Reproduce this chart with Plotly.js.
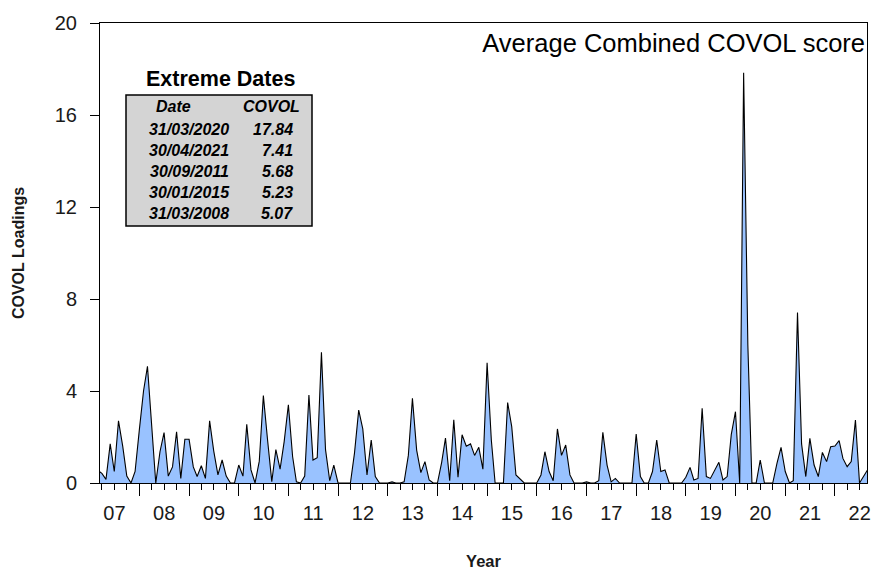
<!DOCTYPE html>
<html>
<head>
<meta charset="utf-8">
<script src="https://cdn.plot.ly/plotly-3.0.1.min.js"></script>
<style>
  html, body { margin: 0; padding: 0; background: #ffffff; }
  #chart { width: 871px; height: 571px; }
</style>
</head>
<body>
<div id="chart"></div>
<script>
// Monthly average combined COVOL score, one array per calendar year.
// 2007 starts in March, 2022 ends in September.
const v2007 = [0.55, 0.42, 0.16, 1.7, 0.5, 2.7, 1.6, 0.3, 0, 0.5];
const v2008 = [2.3, 4.0, 5.07, 2.4, 0, 1.36, 2.19, 0.3, 0.7, 2.23, 0.2, 1.9];
const v2009 = [1.9, 0.7, 0.28, 0.75, 0.2, 2.7, 1.4, 0.35, 1.0, 0.3, 0, 0];
const v2010 = [0.78, 0.3, 2.55, 0.57, 0, 0.95, 3.8, 1.87, 0.06, 1.45, 0.6, 1.8];
const v2011 = [3.4, 1.15, 0.05, 0, 0.3, 3.83, 1.0, 1.1, 5.68, 1.45, 0.1, 0.78];
const v2012 = [0, 0, 0, 0, 1.3, 3.17, 2.35, 0.35, 1.87, 0.28, 0, 0];
const v2013 = [0, 0.05, 0, 0, 0.05, 1.2, 3.68, 1.43, 0.45, 0.93, 0.13, 0];
const v2014 = [0, 0.9, 1.95, 0.1, 2.75, 0.25, 2.1, 1.6, 1.7, 1.2, 1.55, 0.6];
const v2015 = [5.23, 1.87, 0, 0, 0, 3.5, 2.45, 0.35, 0.16, 0, 0, 0];
const v2016 = [0, 0.35, 1.36, 0.5, 0.1, 2.35, 1.2, 1.65, 0.35, 0, 0, 0];
const v2017 = [0.05, 0, 0, 0.1, 2.2, 0.78, 0.05, 0.2, 0, 0, 0, 0];
const v2018 = [2.13, 0.28, 0, 0, 0.5, 1.87, 0.5, 0.57, 0, 0, 0, 0];
const v2019 = [0.25, 0.68, 0.13, 0.2, 3.25, 0.28, 0.2, 0.52, 0.9, 0.13, 0.28, 2.1];
const v2020 = [3.1, 0, 17.84, 6.0, 0, 0, 1.0, 0, 0, 0, 0.85, 1.55];
const v2021 = [0.5, 0, 0.1, 7.41, 1.7, 0.28, 1.94, 0.78, 0.28, 1.33, 0.93, 1.58];
const v2022 = [1.61, 1.84, 1.07, 0.71, 0.93, 2.74, 0, 0.3, 0.6];

// Extreme dates table
const extremeDates  = ['31/03/2020', '30/04/2021', '30/09/2011', '30/01/2015', '31/03/2008'];
const extremeScores = [17.84, 7.41, 5.68, 5.23, 5.07];

const chartTitle = 'Average Combined COVOL score';
const tableTitle = 'Extreme Dates';
const tableHeader = ['Date', 'COVOL'];
const xTitle = 'Year';
const yTitle = 'COVOL Loadings';

// Build the monthly date axis
const yearly = [
  [2007, 3, v2007], [2008, 1, v2008], [2009, 1, v2009], [2010, 1, v2010],
  [2011, 1, v2011], [2012, 1, v2012], [2013, 1, v2013], [2014, 1, v2014],
  [2015, 1, v2015], [2016, 1, v2016], [2017, 1, v2017], [2018, 1, v2018],
  [2019, 1, v2019], [2020, 1, v2020], [2021, 1, v2021], [2022, 1, v2022]
];
const pad = n => (n < 10 ? '0' : '') + n;
const dates = [];
const scores = [];
yearly.forEach(([yr, firstMonth, vals]) => {
  vals.forEach((v, i) => {
    dates.push(yr + '-' + pad(firstMonth + i) + '-01');
    scores.push(v);
  });
});
// The extreme months carry exactly the values listed in the table
extremeDates.forEach((d, i) => {
  const [dd, mm, yyyy] = d.split('/');
  const idx = dates.indexOf(yyyy + '-' + mm + '-01');
  if (idx >= 0) scores[idx] = extremeScores[i];
});

const FONT = '"Liberation Sans", Arial, Helvetica, sans-serif';
const ink = '#1a1a1a';

const trace = {
  x: dates,
  y: scores,
  type: 'scatter',
  mode: 'lines',
  fill: 'tozeroy',
  fillcolor: 'rgb(153,194,255)',
  line: { color: '#000000', width: 1.1, shape: 'linear' },
  hoverinfo: 'x+y'
};

// Plot area geometry in pixels (used to place the table box)
const L = 100, R = 4, T = 23, B = 88, W = 871, H = 571;
const pw = W - L - R, ph = H - T - B;
const px = x => (x - L) / pw;
const py = y => (H - B - y) / ph;

const annotations = [];
annotations.push({
  xref: 'paper', yref: 'paper', x: px(220), y: py(79),
  text: '<b>' + tableTitle + '</b>', showarrow: false,
  font: { family: FONT, size: 21.5, color: '#000' }, xanchor: 'center', yanchor: 'middle'
});
const rowFont = { family: FONT, size: 16, color: '#000' };
annotations.push({
  xref: 'paper', yref: 'paper', x: px(173), y: py(107),
  text: '<b><i>' + tableHeader[0] + '</i></b>', showarrow: false,
  font: rowFont, xanchor: 'center', yanchor: 'middle'
});
annotations.push({
  xref: 'paper', yref: 'paper', x: px(271), y: py(107),
  text: '<b><i>' + tableHeader[1] + '</i></b>', showarrow: false,
  font: rowFont, xanchor: 'center', yanchor: 'middle'
});
extremeDates.forEach((d, i) => {
  const yy = 129.5 + i * 20.9;
  annotations.push({
    xref: 'paper', yref: 'paper', x: px(189), y: py(yy),
    text: '<b><i>' + d + '</i></b>', showarrow: false,
    font: rowFont, xanchor: 'center', yanchor: 'middle'
  });
  annotations.push({
    xref: 'paper', yref: 'paper', x: px(295), y: py(yy),
    text: '<b><i>' + extremeScores[i].toFixed(2) + '</i></b>', showarrow: false,
    font: rowFont, xanchor: 'right', yanchor: 'middle'
  });
});

const layout = {
  width: W, height: H,
  margin: { l: L, r: R, t: T, b: B, pad: 0 },
  paper_bgcolor: '#ffffff',
  plot_bgcolor: '#ffffff',
  showlegend: false,
  font: { family: FONT, color: ink },
  title: {
    text: chartTitle,
    font: { family: FONT, size: 25.5, color: '#000' },
    x: 865 / W, xanchor: 'right', xref: 'container',
    y: 1 - 43 / H, yanchor: 'middle', yref: 'container'
  },
  xaxis: {
    type: 'date',
    range: ['2007-03-18', '2022-08-25'],
    tick0: '2007-01-01',
    dtick: 'M12',
    tickformat: '%y',
    ticklabelmode: 'period',
    ticks: 'outside',
    ticklen: 12,
    tickwidth: 1,
    tickcolor: '#000',
    minor: { dtick: 'M3', ticks: 'outside', ticklen: 6, tickwidth: 1, tickcolor: '#000', showgrid: false },
    showline: true, linecolor: '#000', linewidth: 1, mirror: true,
    showgrid: false, zeroline: false,
    tickfont: { family: FONT, size: 20, color: ink },
    title: { text: '<b>' + xTitle + '</b>', font: { family: FONT, size: 16.5, color: ink }, standoff: 32 }
  },
  yaxis: {
    range: [0, 20],
    tick0: 0, dtick: 4,
    ticks: 'outside',
    ticklen: 9,
    tickwidth: 1,
    tickcolor: '#000',
    showline: true, linecolor: '#000', linewidth: 1, mirror: true,
    showgrid: false, zeroline: false,
    ticklabelstandoff: 9,
    tickfont: { family: FONT, size: 20, color: ink },
    title: { text: '<b>' + yTitle + '</b>', font: { family: FONT, size: 16, color: ink }, standoff: 26 }
  },
  shapes: [{
    type: 'rect', xref: 'paper', yref: 'paper',
    x0: px(126), x1: px(312), y0: py(95), y1: py(226),
    fillcolor: '#d4d4d4', line: { color: '#000', width: 1.5 }, layer: 'above'
  }],
  annotations: annotations
};

Plotly.newPlot('chart', [trace], layout, { displayModeBar: false, staticPlot: true });
</script>
</body>
</html>
